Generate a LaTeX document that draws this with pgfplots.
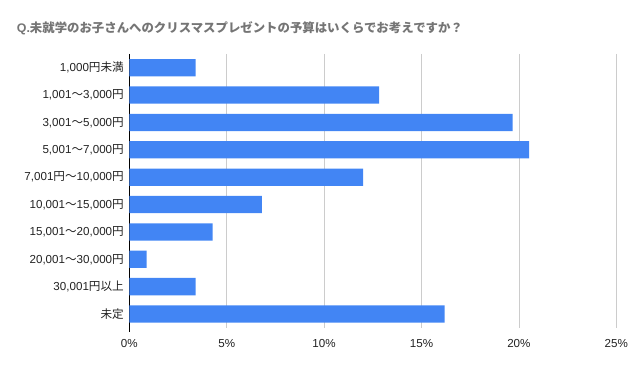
\documentclass[border=0pt]{standalone}
\usepackage{pgfplots}
\pgfplotsset{compat=1.18}
\usepackage{fontspec}
\setmainfont{Liberation Sans}
\newfontfamily\cjk{Noto Sans CJK JP}
\definecolor{barblue}{HTML}{4285F4}
\definecolor{titlegray}{HTML}{757575}
\definecolor{labelc}{HTML}{222222}
\definecolor{gridc}{HTML}{CCCCCC}
\begin{document}
\begin{tikzpicture}[x=1pt,y=1pt]
\path[use as bounding box] (0,0) rectangle (635,371);
\begin{axis}[
  at={(129.3pt,43.3pt)}, anchor=south west,
  scale only axis, width=487pt, height=273.7pt,
  xbar, bar width=17.3pt,
  y dir=reverse,
  ymin=-0.5, ymax=9.5, xmin=0, xmax=25,
  xtick={0,5,10,15,20,25},
  xticklabels={0\%,5\%,10\%,15\%,20\%,25\%},
  ytick={0,1,2,3,4,5,6,7,8,9},
  yticklabels={{1,000{\cjk 円未満}},{1,001{\cjk ～}3,000{\cjk 円}},{3,001{\cjk ～}5,000{\cjk 円}},{5,001{\cjk ～}7,000{\cjk 円}},{7,001{\cjk 円～}10,000{\cjk 円}},{10,001{\cjk ～}15,000{\cjk 円}},{15,001{\cjk ～}20,000{\cjk 円}},{20,001{\cjk ～}30,000{\cjk 円}},{30,001{\cjk 円以上}},{{\cjk 未定}}},
  axis y line*=left, axis x line*=bottom,
  x axis line style={draw=none},
  y axis line style={draw=black, line width=0.8pt, shorten >=-4pt},
  major tick length=0pt,
  xmajorgrids, grid style={gridc, line width=0.8pt},
  tick label style={font=\fontsize{11.6}{13}\selectfont, text=labelc},
  xticklabel style={yshift=-8pt},
  yticklabel style={xshift=-2pt},
  /pgf/number format/assume math mode=true,
  clip=false,
]
\addplot[draw=none, fill=barblue] coordinates {(3.41,0) (12.82,1) (19.68,2) (20.52,3) (12.0,4) (6.8,5) (4.28,6) (0.89,7) (3.41,8) (16.19,9)};
\end{axis}
\node[anchor=west, text=titlegray, font=\fontsize{12.4}{15}\selectfont\bfseries, inner sep=0pt] at (16.7,342.7) {Q.{\cjk\bfseries 未就学のお子さんへのクリスマスプレゼントの予算はいくらでお考えですか？}};
\end{tikzpicture}
\end{document}
